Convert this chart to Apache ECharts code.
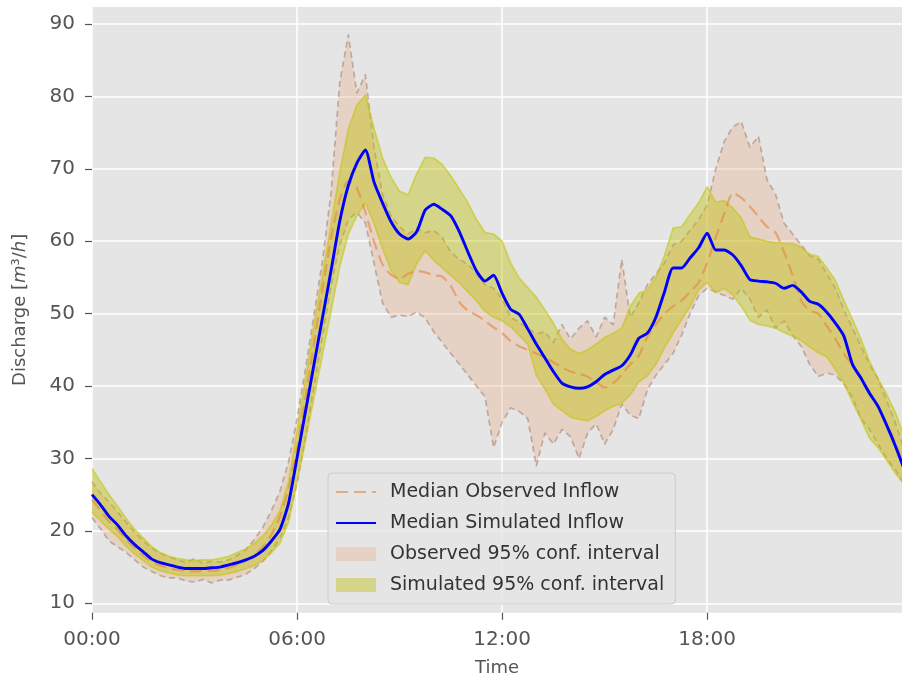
<!DOCTYPE html>
<html>
<head>
<meta charset="utf-8">
<script src="https://cdn.jsdelivr.net/npm/echarts@6/dist/echarts.min.js"></script>
<style>
  html, body { margin: 0; padding: 0; background: #ffffff; }
  #chart { width: 902px; height: 679px; }
</style>
</head>
<body>
<div id="chart"></div>
<script>
// Time of day for every sample (15-minute steps)
const times = [
  "00:00","00:15","00:30","00:45","01:00","01:15","01:30","01:45",
  "02:00","02:15","02:30","02:45","03:00","03:15","03:30","03:45",
  "04:00","04:15","04:30","04:45","05:00","05:15","05:30","05:45",
  "06:00","06:15","06:30","06:45","07:00","07:15","07:30","07:45",
  "08:00","08:15","08:30","08:45","09:00","09:15","09:30","09:45",
  "10:00","10:15","10:30","10:45","11:00","11:15","11:30","11:45",
  "12:00","12:15","12:30","12:45","13:00","13:15","13:30","13:45",
  "14:00","14:15","14:30","14:45","15:00","15:15","15:30","15:45",
  "16:00","16:15","16:30","16:45","17:00","17:15","17:30","17:45",
  "18:00","18:15","18:30","18:45","19:00","19:15","19:30","19:45",
  "20:00","20:15","20:30","20:45","21:00","21:15","21:30","21:45",
  "22:00","22:15","22:30","22:45","23:00","23:15","23:30","23:45"
];

// Median simulated inflow [m3/h]
const simMedian = [
  25.0,23.6,22.0,20.8,19.3,18.1,17.1,16.1,15.6,15.3,
  15.0,14.8,14.8,14.8,14.9,15.0,15.3,15.6,16.0,16.5,
  17.3,18.6,20.2,23.8,30.1,36.6,43.1,49.6,56.1,62.8,
  67.7,70.8,72.6,68.2,65.3,62.7,61.0,60.3,61.3,64.3,
  65.1,64.4,63.5,61.3,58.5,55.9,54.5,55.3,52.8,50.6,
  49.9,47.9,45.8,43.9,42.0,40.4,39.9,39.7,39.9,40.6,
  41.6,42.2,42.8,44.3,46.6,47.3,49.5,53.0,56.3,56.3,
  57.7,59.1,61.1,58.8,58.8,58.1,56.6,54.7,54.5,54.4,
  54.2,53.5,53.9,53.0,51.7,51.3,50.2,48.7,46.9,43.0,
  41.1,39.0,37.2,34.6,31.8,28.7
];

// Simulated 95% confidence interval, lower and upper bounds
const simLower = [
  22.6,21.4,20.2,19.2,17.9,16.8,15.9,15.0,14.5,14.2,
  13.9,13.8,13.8,13.8,13.8,13.9,14.1,14.4,14.8,15.2,
  15.9,17.0,18.3,21.2,26.8,32.5,38.5,44.5,50.5,56.5,
  61.0,63.5,65.3,62.5,59.0,56.0,54.3,54.0,56.9,58.7,
  57.4,56.3,55.3,54.2,53.0,51.8,50.3,49.5,49.0,48.2,
  47.0,45.8,41.5,39.6,37.5,36.6,35.7,35.4,35.2,35.8,
  36.6,37.2,37.6,38.8,40.6,41.4,43.0,45.3,47.3,49.2,
  51.0,53.3,54.3,52.9,53.5,52.6,51.0,49.1,48.5,48.3,
  48.0,47.4,46.9,46.3,45.4,44.6,44.0,42.3,40.4,37.8,
  35.4,32.8,31.5,29.8,28.0,26.5
];
const simUpper = [
  28.6,26.8,25.0,23.4,21.7,20.2,19.0,17.8,17.0,16.5,
  16.2,16.0,15.9,16.0,16.0,16.2,16.5,17.0,17.5,18.3,
  19.3,20.8,22.8,26.8,33.8,41.0,48.5,55.5,62.5,69.5,
  75.5,78.8,80.2,75.6,71.5,68.8,66.9,66.4,69.3,71.6,
  71.5,70.6,69.0,67.2,65.3,63.0,61.2,61.0,60.0,57.0,
  54.9,53.6,52.3,50.5,48.7,46.5,45.1,44.5,45.0,45.8,
  46.7,47.3,48.0,51.0,52.8,53.3,55.0,58.0,61.8,62.0,
  63.7,65.3,67.5,65.4,65.6,64.6,63.2,60.6,60.3,60.0,
  59.8,59.7,59.7,59.2,58.2,57.9,56.3,54.6,51.8,49.2,
  46.5,43.4,41.0,38.9,36.4,33.3
];

// Median observed inflow [m3/h]
const obsMedian = [
  24.3,22.8,21.3,20.2,18.8,17.6,16.6,15.7,15.2,14.9,
  14.6,14.5,14.4,14.5,14.5,14.6,14.9,15.3,15.9,16.7,
  17.8,19.5,22.0,25.8,31.5,38.5,46.0,53.5,60.5,65.8,
  68.3,67.3,64.0,60.0,56.8,55.4,54.8,55.5,55.9,55.7,
  55.3,55.1,53.8,51.6,50.4,49.8,49.0,48.1,47.3,46.2,
  45.5,45.0,44.5,43.9,43.3,42.6,42.0,41.7,41.3,40.6,
  39.8,40.4,41.6,43.0,44.2,46.8,48.5,50.0,51.0,51.8,
  53.0,54.3,57.0,60.5,63.8,66.7,66.0,64.8,63.4,62.0,
  61.2,58.5,55.3,51.8,50.4,50.0,48.3,46.5,44.5,42.8,
  41.1,39.2,37.1,34.9,32.2,29.2
];

// Observed 95% confidence interval, lower and upper bounds
const obsLower = [
  21.8,20.3,18.6,17.8,17.0,16.0,15.0,14.4,13.8,13.5,
  13.5,13.1,12.9,13.3,12.8,13.2,13.2,13.6,14.0,14.8,
  15.8,17.2,19.0,21.8,26.5,33.0,40.0,47.0,54.0,59.5,
  63.0,64.0,62.5,57.0,51.5,49.5,49.8,49.6,50.2,49.4,
  47.5,46.0,44.5,43.0,41.5,40.0,38.5,31.5,35.0,37.0,
  36.5,35.5,29.0,33.5,32.0,34.0,33.0,30.0,33.5,34.8,
  32.0,34.0,37.5,36.0,35.5,39.5,41.5,43.0,44.5,47.0,
  50.0,52.5,53.5,53.0,52.5,52.0,53.5,52.0,49.5,50.5,
  48.0,49.0,47.0,45.5,43.0,41.3,41.8,41.5,40.3,38.5,
  35.5,34.0,32.0,30.0,28.5,26.5
];
const obsUpper = [
  26.8,25.2,24.0,22.6,21.2,19.8,18.6,17.6,16.9,16.4,
  16.0,15.6,16.2,15.5,15.8,15.7,16.0,16.6,17.4,18.8,
  20.5,22.8,25.5,29.5,35.5,42.5,50.0,57.5,67.0,82.0,
  88.5,80.5,83.0,73.0,66.5,63.5,62.0,61.0,61.8,61.2,
  61.5,60.5,58.5,57.5,56.8,55.5,54.0,53.5,52.0,49.5,
  48.8,48.0,47.2,47.5,46.0,48.5,46.5,48.0,49.0,46.8,
  49.5,48.5,57.5,49.5,51.5,54.0,55.5,57.0,59.5,60.0,
  61.5,63.0,65.0,70.0,73.8,75.8,76.5,73.0,74.5,68.5,
  66.5,62.5,61.0,59.5,58.0,57.5,55.5,53.5,50.5,48.0,
  45.5,43.0,41.0,38.0,35.0,31.5
];

// Axis ticks
const xTickLabels = ["00:00", "06:00", "12:00", "18:00"];
const yTickValues = [10, 20, 30, 40, 50, 60, 70, 80, 90];

// Series names
const NAME_OBS_MED = "Median Observed Inflow";
const NAME_SIM_MED = "Median Simulated Inflow";
const NAME_OBS_CI = "Observed 95% conf. interval";
const NAME_SIM_CI = "Simulated 95% conf. interval";

// Clock string -> minutes after midnight
function toMinutes(s) {
  const parts = s.split(":").map(Number);
  return parts[0] * 60 + parts[1];
}
const xs = times.map(toMinutes);
const xTickValues = xTickLabels.map(toMinutes);
const pairs = arr => arr.map((v, i) => [xs[i], v]);

// Colours
const BG = "#E5E5E5";
const OBS_FILL = "rgba(235,160,110,0.28)";
const OBS_EDGE = "rgba(150,118,105,0.50)";
const OBS_MED = "rgba(226,132,64,0.60)";
const SIM_FILL = "rgba(191,191,0,0.40)";
const SIM_EDGE = "rgba(196,196,20,0.60)";
const SIM_MED = "#0000FF";
const FONT = "DejaVu Sans";

// A shaded band between two bounds, drawn as a single polygon plus its edge lines
function bandSeries(name, lower, upper, fill, edge, dash) {
  return {
    name: name,
    type: "custom",
    data: xs.map((x, i) => [x, lower[i], upper[i]]),
    encode: { x: 0, y: [1, 2] },
    itemStyle: { color: fill },
    renderItem: function (params, api) {
      if (params.dataIndex !== 0) return null;
      const up = xs.map((x, i) => api.coord([x, upper[i]]));
      const lo = xs.map((x, i) => api.coord([x, lower[i]]));
      const edgeStyle = { fill: null, stroke: edge, lineWidth: 1.7, lineDash: dash, lineJoin: "round" };
      return {
        type: "group",
        children: [
          { type: "polygon", shape: { points: up.concat(lo.slice().reverse()) }, style: { fill: fill, stroke: null } },
          { type: "polyline", shape: { points: lo }, style: edgeStyle },
          { type: "polyline", shape: { points: up }, style: Object.assign({}, edgeStyle) }
        ]
      };
    }
  };
}

const chart = echarts.init(document.getElementById("chart"), null, { renderer: "canvas" });

chart.setOption({
  animation: false,
  backgroundColor: "#ffffff",
  textStyle: { fontFamily: FONT },
  grid: {
    left: 92, right: 0, top: 7, bottom: 66.3,
    outerBoundsMode: "none",
    containLabel: false,
    show: true, backgroundColor: BG, borderWidth: 0
  },
  xAxis: {
    type: "value",
    min: 0,
    max: 1422,
    axisLine: { show: false },
    axisTick: {
      show: true, length: 7, customValues: xTickValues,
      lineStyle: { color: "#555555", width: 1.2 }
    },
    axisLabel: {
      customValues: xTickValues,
      formatter: v => xTickLabels[xTickValues.indexOf(v)] || "",
      margin: 17, fontSize: 20, color: "#555555", fontFamily: FONT
    },
    splitLine: { show: true, lineStyle: { color: "#ffffff", width: 1.5 } },
    name: "Time",
    nameLocation: "middle",
    nameGap: 47,
    nameTextStyle: { fontSize: 18, color: "#555555", fontFamily: FONT }
  },
  yAxis: {
    type: "value",
    min: 8.7,
    max: 92.35,
    axisLine: { show: false },
    axisTick: {
      show: true, length: 7, customValues: yTickValues,
      lineStyle: { color: "#555555", width: 1.2 }
    },
    axisLabel: {
      customValues: yTickValues,
      margin: 17, fontSize: 20, color: "#555555", fontFamily: FONT
    },
    splitLine: { show: true, lineStyle: { color: "#ffffff", width: 1.5 } },
    name: "Discharge [{i|m}³/{i|h}]",
    nameLocation: "middle",
    nameGap: 63,
    nameRotate: 90,
    nameTextStyle: {
      fontSize: 18, color: "#555555", fontFamily: FONT,
      rich: { i: { fontSize: 18, fontStyle: "italic", color: "#555555", fontFamily: FONT } }
    }
  },
  legend: {
    orient: "vertical",
    left: 328,
    top: 473,
    padding: [9, 11, 9, 7],
    itemWidth: 40,
    itemHeight: 14,
    itemGap: 11,
    backgroundColor: "rgba(229,229,229,0.8)",
    borderColor: "#cccccc",
    borderWidth: 1,
    borderRadius: 4,
    textStyle: { fontFamily: FONT, fontSize: 19, color: "#333333", lineHeight: 20, padding: [0, 0, 0, 9] },
    data: [
      { name: NAME_OBS_MED, itemStyle: { opacity: 0 } },
      { name: NAME_SIM_MED, itemStyle: { opacity: 0 } },
      { name: NAME_OBS_CI, icon: "rect", itemStyle: { color: OBS_FILL, borderWidth: 0 } },
      { name: NAME_SIM_CI, icon: "rect", itemStyle: { color: SIM_FILL, borderWidth: 0 } }
    ]
  },
  series: [
    bandSeries(NAME_OBS_CI, obsLower, obsUpper, OBS_FILL, OBS_EDGE, [6, 4]),
    {
      name: NAME_OBS_MED, type: "line", symbol: "none", smooth: 0.2,
      data: pairs(obsMedian),
      lineStyle: { color: OBS_MED, width: 2.2, type: [12, 6] },
      itemStyle: { color: OBS_MED }
    },
    bandSeries(NAME_SIM_CI, simLower, simUpper, SIM_FILL, SIM_EDGE, null),
    {
      name: NAME_SIM_MED, type: "line", symbol: "none", smooth: 0.2,
      data: pairs(simMedian),
      lineStyle: { color: SIM_MED, width: 2.9 },
      itemStyle: { color: SIM_MED }
    }
  ]
});
</script>
</body>
</html>
